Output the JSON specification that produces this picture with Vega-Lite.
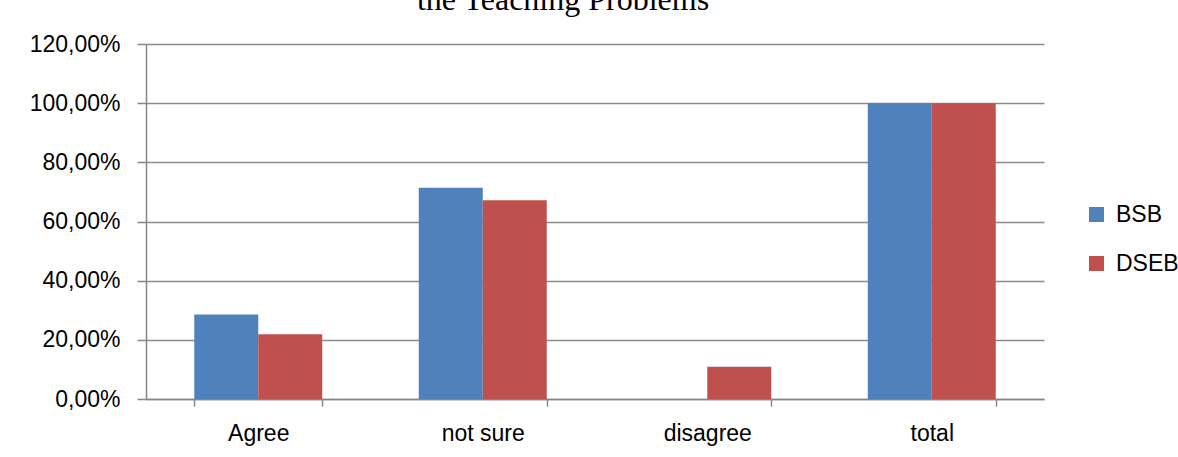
{
  "$schema": "https://vega.github.io/schema/vega-lite/v6.json",
  "width": 898,
  "height": 355,
  "autosize": {"type": "none"},
  "padding": {"left": 146, "top": 44, "right": 134, "bottom": 58},
  "background": "white",
  "title": {
    "text": "the Teaching Problems",
    "font": "Liberation Serif",
    "fontSize": 32,
    "fontWeight": "normal",
    "color": "black",
    "anchor": "middle",
    "frame": "group",
    "baseline": "alphabetic",
    "dx": -32,
    "offset": -9
  },
  "data": {
    "values": [
      {"category": "Agree", "group": "BSB", "value": 28.57},
      {"category": "Agree", "group": "DSEB", "value": 21.88},
      {"category": "not sure", "group": "BSB", "value": 71.43},
      {"category": "not sure", "group": "DSEB", "value": 67.19},
      {"category": "disagree", "group": "BSB", "value": 0},
      {"category": "disagree", "group": "DSEB", "value": 10.94},
      {"category": "total", "group": "BSB", "value": 100},
      {"category": "total", "group": "DSEB", "value": 100}
    ]
  },
  "mark": {"type": "bar"},
  "encoding": {
    "x": {
      "field": "category",
      "type": "nominal",
      "sort": ["Agree", "not sure", "disagree", "total"],
      "scale": {"paddingInner": 0.43, "paddingOuter": 0.215},
      "axis": {
        "title": null,
        "labelAngle": 0,
        "tickBand": "extent",
        "tickSize": 7,
        "labelPadding": 16,
        "grid": false
      }
    },
    "xOffset": {
      "field": "group",
      "type": "nominal",
      "sort": ["BSB", "DSEB"],
      "scale": {"paddingInner": 0, "paddingOuter": 0}
    },
    "y": {
      "field": "value",
      "type": "quantitative",
      "scale": {"domain": [0, 120], "nice": false},
      "axis": {
        "title": null,
        "values": [0, 20, 40, 60, 80, 100, 120],
        "labelExpr": "replace(format(datum.value, '.2f'), '.', ',') + '%'",
        "tickSize": 9,
        "labelPadding": 17,
        "grid": true
      }
    },
    "color": {
      "field": "group",
      "type": "nominal",
      "scale": {"domain": ["BSB", "DSEB"], "range": ["#4F81BD", "#C0504D"]},
      "legend": {
        "title": null,
        "orient": "none",
        "legendX": 939,
        "legendY": 159,
        "padding": 0,
        "symbolType": "square",
        "symbolSize": 225,
        "symbolStrokeWidth": 0,
        "labelOffset": 8,
        "rowPadding": 25,
        "labelFontSize": 23,
        "labelFont": "Liberation Sans",
        "labelColor": "black"
      }
    }
  },
  "config": {
    "view": {"stroke": null},
    "axis": {
      "labelFont": "Liberation Sans",
      "labelFontSize": 23,
      "labelColor": "black",
      "domainColor": "#868686",
      "domainWidth": 1.5,
      "tickColor": "#868686",
      "tickWidth": 1.5,
      "gridColor": "#8c8c8c",
      "gridWidth": 1.5
    }
  }
}
